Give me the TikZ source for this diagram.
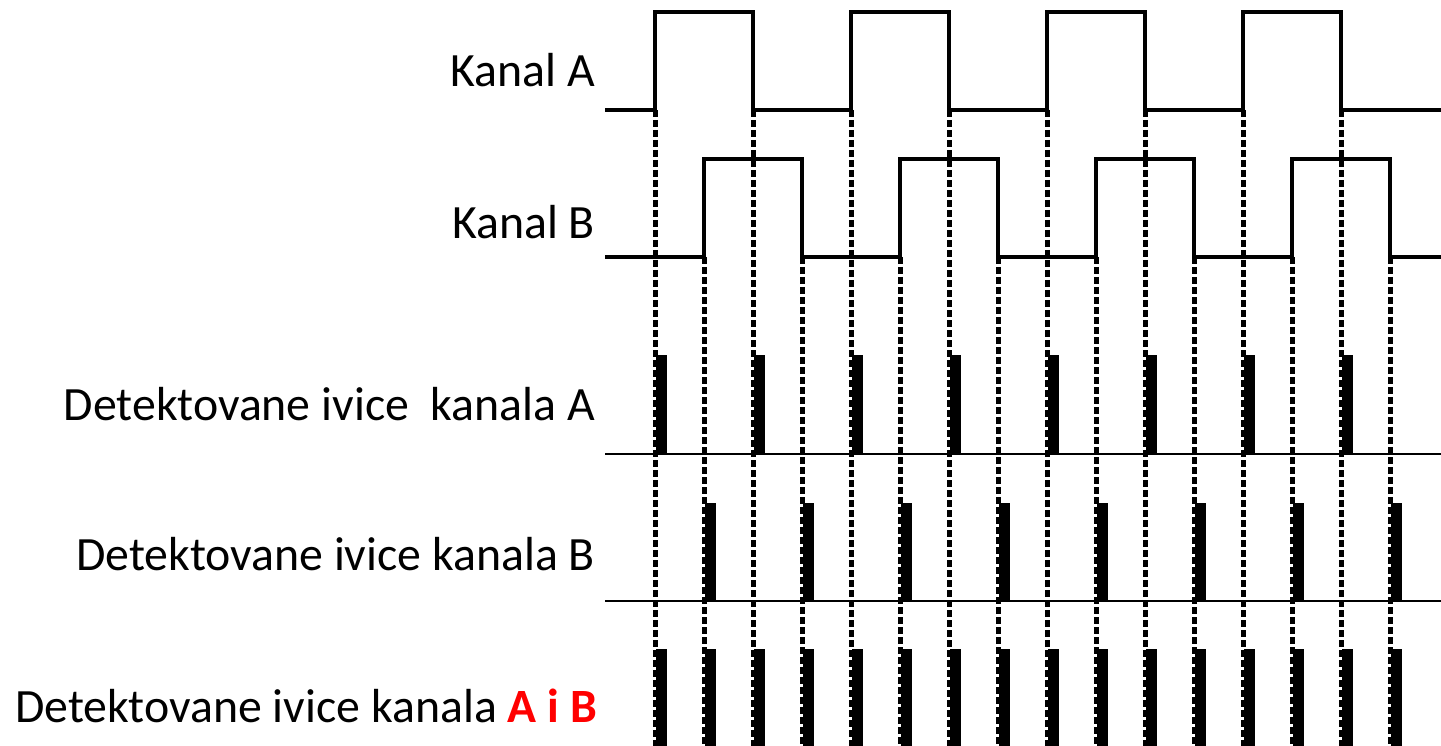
\documentclass[tikz,border=0pt]{standalone}
\usepackage{fontspec}
\setmainfont{Carlito}
\definecolor{hired}{RGB}{255,0,0}
\begin{document}
\begin{tikzpicture}[x=1pt,y=-1pt,
  wave/.style={line width=3.5pt, line join=miter},
  base/.style={line width=2pt},
  guide/.style={line width=5pt, dash pattern=on 7pt off 3pt},
  pulse/.style={fill=black, draw=none},
  lbl/.style={anchor=base east, font=\fontsize{47.8}{54}\selectfont, inner sep=0pt}]
\useasboundingbox (0,0) rectangle (1441,746);
% waveforms
\draw[wave] (605,110) -| (655,12) -| (753,110) -| (851,12) -| (949,110) -| (1047,12) -| (1145,110) -| (1243,12) -| (1341,110) -- (1441,110);
\draw[wave] (605,257) -| (704,159) -| (802,257) -| (900,159) -| (998,257) -| (1096,159) -| (1194,257) -| (1292,159) -| (1390,257) -- (1441,257);
% detection baselines
\draw[base] (605,454) -- (1441,454);
\draw[base] (605,601) -- (1441,601);
% pulses
\foreach \x in {655,753,851,949,1047,1145,1243,1341} {
  \fill[pulse] (\x+1,355) rectangle (\x+12,454);
}
\foreach \x in {704,802,900,998,1096,1194,1292,1390} {
  \fill[pulse] (\x+1,503) rectangle (\x+12,601);
}
\foreach \x in {655,704,753,802,851,900,949,998,1047,1096,1145,1194,1243,1292,1341,1390} {
  \fill[pulse] (\x+1,649) rectangle (\x+12,746);
}
% dashed guides
\foreach \x in {655,753,851,949,1047,1145,1243,1341} {
  \draw[guide] (\x,110) -- (\x,746);
}
\foreach \x in {704,802,900,998,1096,1194,1292,1390} {
  \draw[guide] (\x,257) -- (\x,746);
}
% labels
\node[lbl] (la) at (595,87) {Kanal A};
\node[lbl] (lb) at (595,239) {Kanal B};
\node[lbl] (lda) at (595,420) {Detektovane ivice\ \ kanala A};
\node[lbl] (ldb) at (595,570) {Detektovane ivice kanala B};
\node[lbl] (ldab) at (597,722) {Detektovane ivice kanala \textcolor{hired}{\bfseries A i B}};
\end{tikzpicture}
\end{document}
